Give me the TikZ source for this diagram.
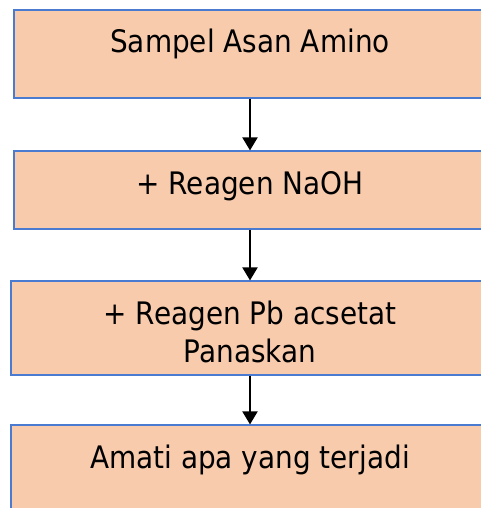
\documentclass[tikz,border=0pt]{standalone}
\usepackage{fontspec}
\setmainfont[FakeStretch=0.9]{DejaVu Sans}
\usepackage{tikz}
\usetikzlibrary{arrows.meta}
\definecolor{boxfill}{HTML}{F8CBAD}
\definecolor{boxline}{HTML}{4A7BD0}
\tikzset{
  stepbox/.style={draw=boxline,line width=1.2pt,fill=boxfill,rectangle,
    inner sep=0pt,align=center,text height=43pt},
  flow/.style={-{Triangle[width=15pt,length=13pt]},line width=2pt,black}
}

\begin{document}
\begin{tikzpicture}[x=1pt,y=-1pt,font=\fontsize{31}{38}\selectfont]
  \useasboundingbox (0,0) rectangle (481,508);
  \clip (0,0) rectangle (481,508);
  % the four steps
  \node[stepbox,minimum width=472pt,text depth=45pt] (sampel) at (250,54) {Sampel Asan Amino};
  \node[stepbox,minimum width=472pt,text depth=35pt] (naoh) at (250,190) {+ Reagen NaOH};
  \node[stepbox,minimum width=478pt,text height=81pt,text depth=13pt] (pb) at (250,328) {+ Reagen Pb acsetat\\Panaskan};
  \node[stepbox,minimum width=478pt,text depth=52pt] (amati) at (250,472.5) {Amati apa yang terjadi};
  % arrows between steps
  \draw[flow] (sampel) -- (naoh);
  \draw[flow] (naoh) -- (pb);
  \draw[flow] (pb) -- (amati);
\end{tikzpicture}
\end{document}
